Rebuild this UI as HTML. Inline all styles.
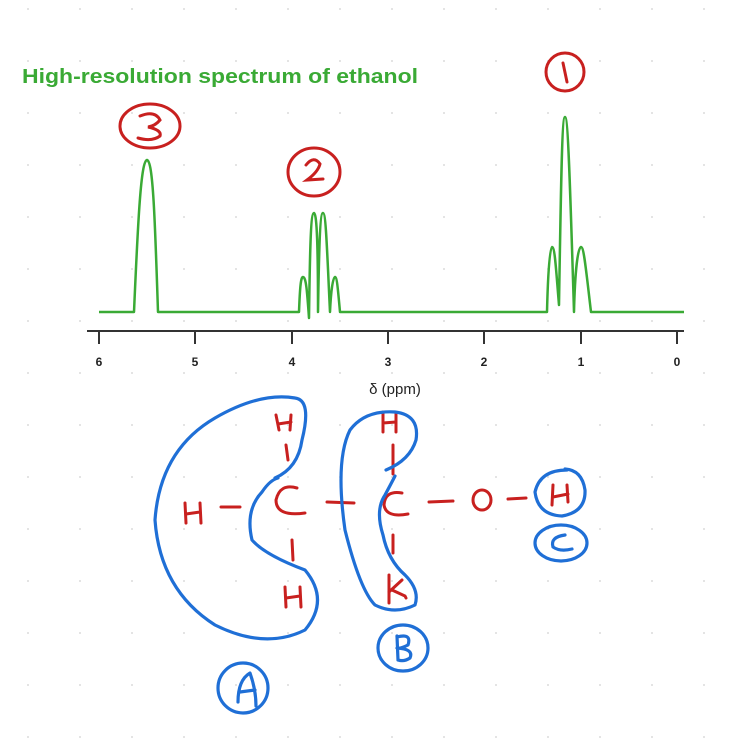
<!DOCTYPE html>
<html><head><meta charset="utf-8"><style>
html,body{margin:0;padding:0;background:#fff;}
svg{display:block;}
</style></head><body>
<svg width="735" height="750" viewBox="0 0 735 750" xmlns="http://www.w3.org/2000/svg">
<defs>
<pattern id="dots" x="27" y="8" width="52" height="52" patternUnits="userSpaceOnUse">
<circle cx="1" cy="1" r="1" fill="#dcdcdc"/>
</pattern>
</defs>
<rect width="735" height="750" fill="url(#dots)"/>
<text x="22" y="83" font-family="Liberation Sans, sans-serif" font-weight="bold" font-size="20" fill="#3aaa35" textLength="396" lengthAdjust="spacingAndGlyphs">High-resolution spectrum of ethanol</text>
<!-- spectrum -->
<path fill="none" stroke="#3aaa35" stroke-width="2.5" stroke-linejoin="round"
d="M99,312 L134,312 C138,220 141,160 147,160 C153,160 155,220 158,312 L299,312
C300,285 301,277 303,277 C306,277 307,290 309,318
C310,240 311,213 314,213 C317,213 318,250 318,312
C319,250 320,213 323,213 C326,213 327,250 330,312
C331,290 333,277 335,277 C337,277 338,290 340,312 L547,312
C548,270 550,247 552,247 C555,247 556,270 559,305
C561,180 562,117 565,117 C568,117 570,180 574,312
C575,270 578,247 581,247 C584,247 586,270 591,312 L684,312"/>
<!-- axis -->
<g stroke="#333" stroke-width="2">
<line x1="87" y1="331" x2="684" y2="331"/>
<line x1="99" y1="331" x2="99" y2="344"/>
<line x1="195" y1="331" x2="195" y2="344"/>
<line x1="292" y1="331" x2="292" y2="344"/>
<line x1="388" y1="331" x2="388" y2="344"/>
<line x1="484" y1="331" x2="484" y2="344"/>
<line x1="581" y1="331" x2="581" y2="344"/>
<line x1="677" y1="331" x2="677" y2="344"/>
</g>
<g font-family="Liberation Sans, sans-serif" font-size="12" fill="#222" text-anchor="middle" font-weight="bold">
<text x="99" y="366">6</text><text x="195" y="366">5</text><text x="292" y="366">4</text>
<text x="388" y="366">3</text><text x="484" y="366">2</text><text x="581" y="366">1</text><text x="677" y="366">0</text>
</g>
<text x="395" y="394" font-family="Liberation Sans, sans-serif" font-size="15" fill="#222" text-anchor="middle">δ (ppm)</text>
<!-- red annotations -->
<g fill="none" stroke="#c8201f" stroke-width="3" stroke-linecap="round">
<ellipse cx="565" cy="72" rx="19" ry="19"/>
<path d="M563,63 L567,82"/>
<ellipse cx="150" cy="126" rx="30" ry="22"/>
<path d="M140,116 Q155,110 160,120 Q155,126 148,127 Q162,130 160,136 Q152,142 138,138"/>
<ellipse cx="314" cy="172" rx="26" ry="24"/>
<path d="M306,165 Q314,155 320,164 Q318,172 307,180 L323,179"/>
<!-- molecule -->
<path d="M276,415 L279,430 M291,415 L290,430 M278,424 L291,422"/>
<path d="M286,445 L288,460"/>
<path d="M185,503 L186,523 M200,503 L201,523 M186,514 L200,512"/>
<path d="M221,507 L240,507"/>
<path d="M297,488 Q280,483 276,500 Q276,517 305,513"/>
<path d="M292,540 L293,560"/>
<path d="M285,587 L286,607 M300,587 L301,607 M286,598 L300,596"/>
<path d="M327,502 L354,503"/>
<path d="M383,412 L383,432 M396,413 L396,432 M383,423 L396,422"/>
<path d="M393,445 L393,474"/>
<path d="M402,493 Q385,490 384,505 Q386,518 408,514"/>
<path d="M393,535 L393,553"/>
<path d="M389,575 L389,603 M389,592 L402,580 M392,590 L405,596 L406,598"/>
<path d="M429,502 L453,501"/>
<ellipse cx="482" cy="500" rx="9" ry="10"/>
<path d="M508,499 L526,498"/>
<path d="M553,485 L552,505 M567,485 L568,502 M553,497 L568,494"/>
</g>
<!-- blue annotations -->
<g fill="none" stroke="#1f6fd6" stroke-width="3.2" stroke-linecap="round" stroke-linejoin="round">
<path d="M275,478 Q298,468 302,440 Q312,400 295,398 Q260,392 215,418 Q160,450 155,520 Q160,590 215,625 Q265,650 305,630 Q330,600 305,570 Q265,555 252,540 Q245,510 262,492 Q270,480 278,478"/>
<path d="M386,470 Q410,460 416,440 Q420,415 395,412 Q365,410 350,430 Q335,460 345,530 Q360,590 375,605 Q395,615 415,605 Q420,590 405,575 Q388,560 383,535 Q375,510 385,495 Q392,482 395,476"/>
<path d="M567,470 Q540,470 535,492 Q538,515 562,516 Q586,512 585,490 Q582,470 565,469"/>
<ellipse cx="561" cy="543" rx="26" ry="18"/>
<path d="M565,535 Q550,537 553,547 Q560,552 572,549"/>
<ellipse cx="403" cy="648" rx="25" ry="23"/>
<path d="M397,636 L398,660 M397,637 Q412,633 408,645 Q400,649 397,648 Q414,649 410,658 Q404,662 398,660"/>
<ellipse cx="243" cy="688" rx="25" ry="25"/>
<path d="M238,702 Q238,680 250,673 Q256,690 256,706 M240,692 L255,690"/>
</g>
</svg>
</body></html>
